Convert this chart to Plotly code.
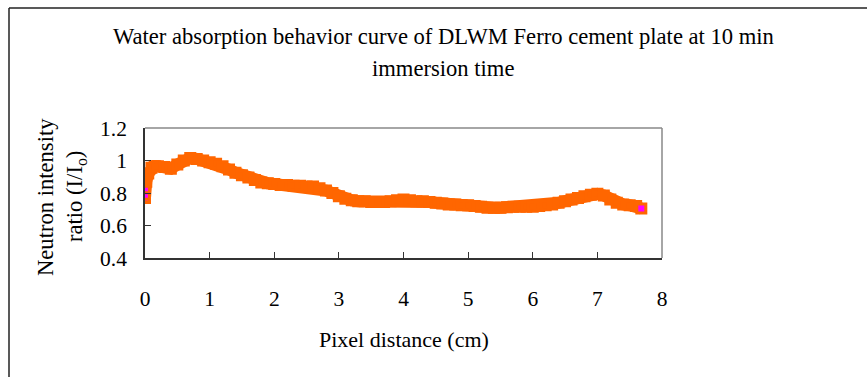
import plotly.graph_objects as go

distance_cm = [0.0, 0.0, 0.0, 0.02, 0.05, 0.1, 0.15, 0.2, 0.3, 0.4, 0.5, 0.6, 0.7, 0.8, 0.9,
               1.0, 1.1, 1.2, 1.3, 1.4, 1.5, 1.6, 1.7, 1.8, 1.9, 2.0, 2.1, 2.2, 2.3, 2.4,
               2.5, 2.6, 2.7, 2.8, 2.9, 3.0, 3.1, 3.2, 3.3, 3.4, 3.5, 3.6, 3.7, 3.8, 3.9,
               4.0, 4.1, 4.2, 4.3, 4.4, 4.5, 4.6, 4.7, 4.8, 4.9, 5.0, 5.1, 5.2, 5.3, 5.4,
               5.5, 5.6, 5.7, 5.8, 5.9, 6.0, 6.1, 6.2, 6.3, 6.4, 6.5, 6.6, 6.7, 6.8, 6.9,
               7.0, 7.1, 7.2, 7.3, 7.4, 7.5, 7.6, 7.68]
intensity_ratio = [0.77, 0.79, 0.83, 0.87, 0.92, 0.955, 0.965, 0.965, 0.96, 0.95, 0.975, 1.0, 1.015, 1.01, 1.0,
                   0.99, 0.98, 0.965, 0.945, 0.925, 0.91, 0.895, 0.88, 0.865, 0.86, 0.855, 0.85, 0.85, 0.845, 0.845,
                   0.84, 0.84, 0.83, 0.815, 0.80, 0.78, 0.765, 0.755, 0.75, 0.75, 0.745, 0.745, 0.745, 0.75, 0.755,
                   0.76, 0.755, 0.75, 0.75, 0.745, 0.74, 0.735, 0.73, 0.73, 0.725, 0.725, 0.72, 0.715, 0.71, 0.71,
                   0.71, 0.712, 0.715, 0.715, 0.715, 0.715, 0.72, 0.725, 0.73, 0.74, 0.75, 0.76, 0.77, 0.78, 0.79,
                   0.795, 0.785, 0.76, 0.74, 0.73, 0.725, 0.72, 0.705]

x_ticks = [0, 1, 2, 3, 4, 5, 6, 7, 8]
y_ticks = [0.4, 0.6, 0.8, 1.0, 1.2]
y_tick_labels = ["0.4", "0.6", "0.8", "1", "1.2"]

title_lines = ["Water absorption behavior curve of DLWM Ferro cement plate at 10 min",
               "immersion time"]
x_title = "Pixel distance (cm)"
y_title_lines = ["Neutron intensity", "ratio (I/I<sub>o</sub>)"]

ORANGE = "#FF6600"
MAGENTA = "#FF00FF"
FONT = "Liberation Serif"

n = len(distance_cm)
fills = [MAGENTA if (i < 3 or i == n - 1) else ORANGE for i in range(n)]

W, H = 867, 377
L, R, T, B = 145, 662, 128, 258  # plot area pixels


def px(x):
    return (x - L) / (R - L)


def py(y):
    return (B - y) / (B - T)


fig = go.Figure()
fig.add_trace(go.Scatter(
    x=distance_cm, y=intensity_ratio, mode="lines+markers",
    line=dict(color=ORANGE, width=12),
    marker=dict(symbol="square", size=9, color=fills, line=dict(color=ORANGE, width=3)),
    showlegend=False, hoverinfo="x+y",
))

fig.update_layout(
    width=W, height=H,
    margin=dict(l=L, r=W - R, t=T, b=H - B),
    paper_bgcolor="white", plot_bgcolor="white",
    font=dict(family=FONT, size=21, color="black"),
    xaxis=dict(range=[0, 8], tickvals=x_ticks, ticks="inside", ticklen=6, tickcolor="#333",
               showline=True, linecolor="#333", linewidth=1.5, mirror=False,
               showgrid=False, zeroline=False, ticklabelstandoff=20,
               tickfont=dict(family=FONT, size=21.5)),
    yaxis=dict(range=[0.4, 1.2], tickvals=y_ticks, ticktext=y_tick_labels, ticks="inside",
               ticklen=6, tickcolor="#333", showline=True, linecolor="#333", linewidth=1.5,
               showgrid=False, zeroline=False, ticklabelstandoff=12,
               tickfont=dict(family=FONT, size=21.5)),
    shapes=[
        dict(type="line", xref="paper", yref="paper", x0=0, x1=1, y0=1, y1=1,
             line=dict(color="#888", width=1.5)),
        dict(type="line", xref="paper", yref="paper", x0=1, x1=1, y0=0, y1=1,
             line=dict(color="#888", width=1.5)),
        dict(type="line", xref="paper", yref="paper", x0=px(9), x1=px(W + 5), y0=py(8), y1=py(8),
             line=dict(color="#222", width=1.5)),
        dict(type="line", xref="paper", yref="paper", x0=px(9), x1=px(9), y0=py(8), y1=py(H + 5),
             line=dict(color="#222", width=1.5)),
    ],
    annotations=[
        dict(text=title_lines[0], xref="paper", yref="paper", x=px(443), y=py(36),
             showarrow=False, xanchor="center", yanchor="middle", font=dict(size=22.6)),
        dict(text=title_lines[1], xref="paper", yref="paper", x=px(443), y=py(68),
             showarrow=False, xanchor="center", yanchor="middle", font=dict(size=22.6)),
        dict(text=y_title_lines[0], xref="paper", yref="paper", x=px(45), y=py(197),
             showarrow=False, xanchor="center", yanchor="middle", textangle=-90, font=dict(size=22.6)),
        dict(text=y_title_lines[1], xref="paper", yref="paper", x=px(76), y=py(197),
             showarrow=False, xanchor="center", yanchor="middle", textangle=-90, font=dict(size=22.6)),
        dict(text=x_title, xref="paper", yref="paper", x=px(404), y=py(339),
             showarrow=False, xanchor="center", yanchor="middle", font=dict(size=22)),
    ],
)

fig.write_html("out.html")
